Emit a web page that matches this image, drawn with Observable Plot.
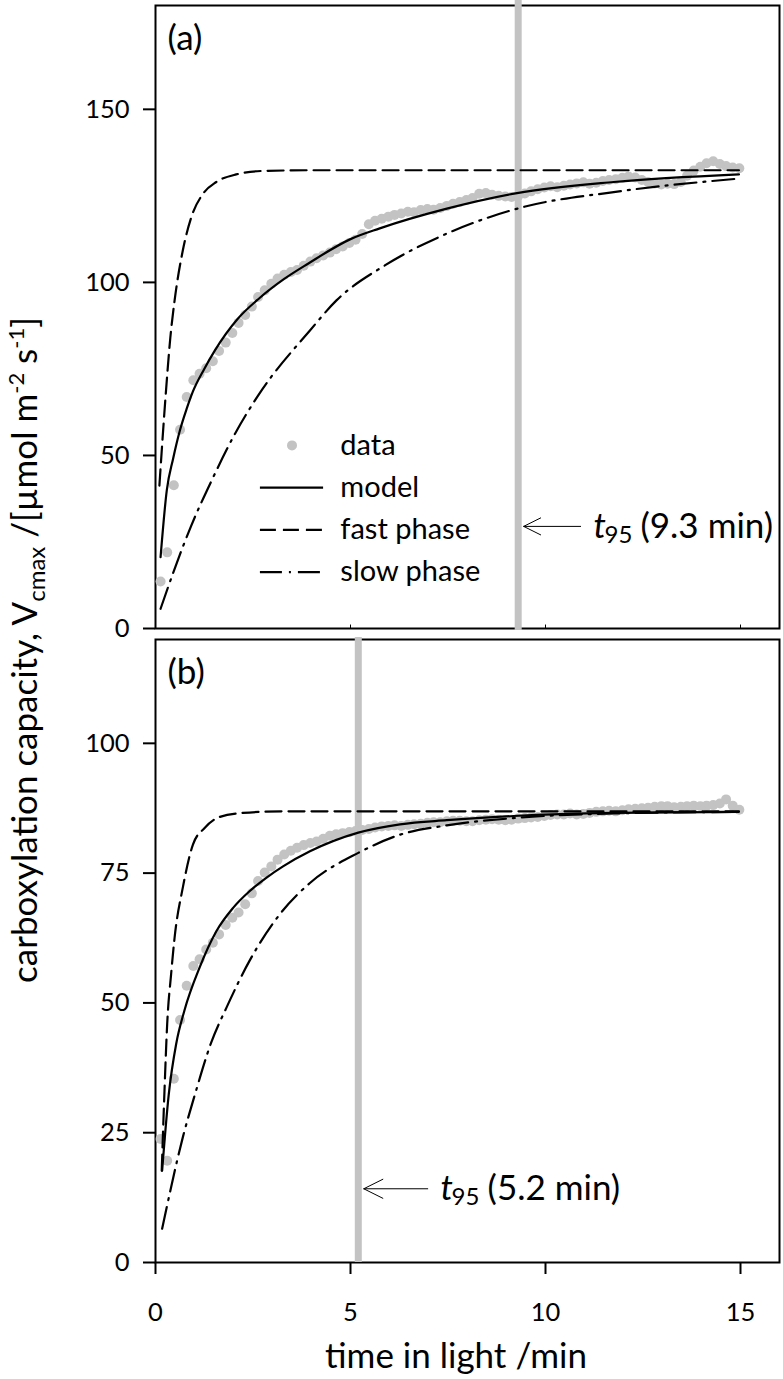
<!DOCTYPE html>
<html><head><meta charset="utf-8">
<script src="https://cdn.jsdelivr.net/npm/d3@7"></script>
<script src="https://cdn.jsdelivr.net/npm/@observablehq/plot@0.6"></script>
<style>
body{margin:0;background:#fff;}
#wrap{position:relative;width:783px;height:1379px;font-family:Lato,sans-serif;}
#wrap > svg{position:absolute;left:0;}
</style></head><body><div id="wrap"></div>
<script>
// ---------- data ----------
const times = [0.13,0.30,0.47,0.63,0.80,0.97,1.13,1.30,1.47,1.63,1.80,1.97,2.13,2.30,2.47,2.63,2.80,2.97,3.13,3.30,3.47,3.63,3.80,3.97,4.13,4.30,4.47,4.63,4.80,4.97,5.13,5.30,5.47,5.63,5.80,5.97,6.13,6.30,6.47,6.63,6.80,6.97,7.13,7.30,7.47,7.63,7.80,7.97,8.13,8.30,8.47,8.63,8.80,8.97,9.13,9.30,9.47,9.63,9.80,9.97,10.13,10.30,10.47,10.63,10.80,10.97,11.13,11.30,11.47,11.63,11.80,11.97,12.13,12.30,12.47,12.63,12.80,12.97,13.13,13.30,13.47,13.63,13.80,13.97,14.13,14.30,14.47,14.63,14.80,14.97];
const vcmaxA = [13.6,22,41.4,57.4,66.9,71.7,73.6,75.2,77.2,80.2,82.6,85.4,88.3,90.6,93,95.8,97.7,99.6,101.1,102.2,103,103.6,104.8,106,107,107.8,108.6,109.6,110.4,111.4,112.3,114,116.8,117.8,118.4,119,119.5,119.9,120.4,120.3,120.9,121.2,121,121.5,122.1,122.7,123.2,123.8,124.4,125.6,125.8,125.3,125,124.8,124.7,125,125.7,126.3,126.9,127.4,127.8,127.5,127.9,128.3,128.6,128.9,128.5,128.8,129.3,129.6,129.8,130.2,130.6,130.3,129.6,129,128.6,128.3,128.5,128.4,129,130.8,132.3,133.4,134.4,135,134.2,133.6,133.2,133];
const vcmaxB = [23.8,19.6,35.4,46.7,53.3,57.1,58.4,60.3,61.6,63.2,65,66.4,67.4,69,71.1,73.5,75.1,76.3,77.6,78.6,79.3,79.9,80.4,80.8,81.1,81.6,82.2,82.5,82.7,82.9,83.1,83.3,83.5,83.8,84,84.1,84.2,84.1,84.3,84.4,84.5,84.7,84.8,84.8,85,85.1,85.1,85,85,85.2,85.3,85.4,85.3,85.2,85.3,85.5,85.6,85.7,85.8,86,86.2,86.3,86.3,86.5,86.3,86.4,86.6,86.8,86.9,87,86.9,87.1,87.3,87.4,87.5,87.6,87.8,87.9,87.9,87.7,87.8,87.9,88,87.9,88,88.1,88.4,89.2,88,87.2];

const modelA_t = [0.13,0.29,0.45,0.62,0.80,0.96,1.25,1.52,2.11,2.67,3.30,3.91,5.00,5.75,7.47,9.27,11.75,14.96];
const modelA_v = [20.6,40,49,57,63.5,68.5,75,80.3,89.5,95.5,101,105.4,112.5,115.6,121.3,125.8,129,131.2];
const fastA_t = [0.10,0.27,0.38,0.49,0.70,0.92,1.22,1.56,2.07,2.75,4.0,14.96];
const fastA_v = [41.3,68.8,84,94.8,109.2,118.9,125.6,129,131.2,132.2,132.4,132.4];
const slowA_t = [0.13,0.46,0.92,1.45,2.05,2.63,3.96,4.64,5.88,7.47,9.44,11.75,14.96];
const slowA_v = [5.7,16.3,29.8,43,56.5,67.3,86.1,94.8,104.9,114.1,121.8,126.1,130];

const modelB_t = [0.17,0.34,0.53,0.74,1.13,1.56,1.99,2.41,2.84,3.27,3.96,5.2,6.27,7.47,9.18,11.75,14.96];
const modelB_v = [17.7,32.4,42.1,48.5,56.8,63.8,68.3,71.5,74.1,76.3,79.2,82.8,84.4,85.2,86,86.6,86.8];
const fastB_t = [0.16,0.23,0.30,0.40,0.49,0.70,0.96,1.26,1.64,2.24,3.27,14.96];
const fastB_v = [17.7,33,46,55.5,62.6,72.2,80.5,83.7,85.8,86.6,86.9,86.9];
const slowB_t = [0.17,0.70,1.04,1.43,1.82,2.41,3.19,3.96,5.2,6.27,7.47,9.18,11.75,14.96];
const slowB_v = [6.5,24.1,33.1,42.4,49.1,58.1,67.1,73.1,78.9,82.4,84.2,85.6,86.5,86.8];

const xTicks = [0,5,10,15];
const yTicksA = [0,50,100,150];
const yTicksB = [0,25,50,75,100];
const t95 = [9.3, 5.2];
const t95Text = ["(9.3 min)", "(5.2 min)"];
const panelLabels = ["(a)", "(b)"];
const legendLabels = ["data", "model", "fast phase", "slow phase"];

// ---------- styling ----------
const FONT = "Lato, 'Open Sans', sans-serif";
const GRAY = "#c3c3c3";
const DASH = "16,7";
const DASHDOT = "22,7,2,7";
const LW = 2.2;
const W = 783, ML = 155, MR = 4;

const zip = (ts, vs) => ts.map((t, i) => ({t, v: vs[i]}));
const wrap = document.getElementById("wrap");

function curves(m, f, s) {
  return [
    Plot.line(m, {x: "t", y: "v", curve: "monotone-x", stroke: "black", strokeWidth: LW}),
    Plot.line(f, {x: "t", y: "v", curve: "monotone-x", stroke: "black", strokeWidth: LW, strokeDasharray: DASH}),
    Plot.line(s, {x: "t", y: "v", curve: "monotone-x", stroke: "black", strokeWidth: LW, strokeDasharray: DASHDOT})
  ];
}

function annotation(tv, yv, len, txt) {
  const tip = tv + 0.14, tail = tip + len, tx = tail + 0.33;
  return [
    Plot.arrow([0], {x1: () => tail, y1: () => yv, x2: () => tip, y2: () => yv,
      stroke: "black", strokeWidth: 1, headLength: 33, headAngle: 53}),
    Plot.text(["t"], {x: () => tx, y: () => yv, text: d => d, textAnchor: "start",
      fontStyle: "italic", fontSize: 35, fontFamily: FONT, fill: "black"}),
    Plot.text(["95"], {x: () => tx, y: () => yv, text: d => d, textAnchor: "start", dx: 11, dy: 9,
      fontSize: 24, fontFamily: FONT, fill: "black"}),
    Plot.text([txt], {x: () => tx, y: () => yv, text: d => d, textAnchor: "start", dx: 47,
      fontSize: 35, fontFamily: FONT, fill: "black"})
  ];
}

// ---------- panel (a) ----------
const dataA = times.map((t, i) => ({t, v: vcmaxA[i]}));
const legX1 = 2.69, legX2 = 4.31, legTX = 4.74, legY0 = 52.9, legStep = 12.2;
const plotA = Plot.plot({
  width: W, height: 640, marginTop: 5, marginBottom: 12, marginLeft: ML, marginRight: MR,
  x: {domain: [0, 16], axis: null},
  y: {domain: [0, 180]},
  style: {fontFamily: FONT, color: "black", background: "transparent", overflow: "visible"},
  marks: [
    Plot.axisY({ticks: yTicksA, tickSize: 12, tickPadding: 14, strokeWidth: 2, fontSize: 25.5, label: null, fill: "black"}),
    Plot.frame({stroke: "black", strokeWidth: 2}),
    Plot.ruleX(xTicks.slice(1), {y1: 0, y2: 1, stroke: "black", strokeWidth: 1}),
    Plot.ruleX([t95[0]], {y1: -0.6, y2: 181.5, stroke: GRAY, strokeWidth: 7}),
    Plot.dot(dataA, {x: "t", y: "v", r: 5, fill: GRAY, stroke: "none"}),
    ...curves(zip(modelA_t, modelA_v), zip(fastA_t, fastA_v), zip(slowA_t, slowA_v)),
    // legend
    Plot.dot([legendLabels[0]], {x: () => (legX1 + legX2) / 2, y: () => legY0, r: 5, fill: GRAY}),
    Plot.ruleY([legendLabels[1]], {y: () => legY0 - legStep, x1: legX1, x2: legX2, stroke: "black", strokeWidth: LW}),
    Plot.ruleY([legendLabels[2]], {y: () => legY0 - 2 * legStep, x1: legX1, x2: legX2, stroke: "black", strokeWidth: LW, strokeDasharray: DASH}),
    Plot.ruleY([legendLabels[3]], {y: () => legY0 - 3 * legStep, x1: legX1, x2: legX2, stroke: "black", strokeWidth: LW, strokeDasharray: DASHDOT}),
    Plot.text(legendLabels, {x: () => legTX, y: (d, i) => legY0 - i * legStep, text: d => d, textAnchor: "start",
      fontSize: 29, fontFamily: FONT, fill: "black"}),
    ...annotation(t95[0], 29.5, 1.46, t95Text[0]),
    Plot.text([panelLabels[0]], {frameAnchor: "top-left", text: d => d, dx: 12, dy: 20, lineAnchor: "top",
      fontSize: 35, fontFamily: FONT, fill: "black"})
  ]
});
plotA.style.top = "0px";
wrap.appendChild(plotA);

// ---------- panel (b) ----------
const dataB = times.map((t, i) => ({t, v: vcmaxB[i]}));
const plotB = Plot.plot({
  width: W, height: 747, marginTop: 7, marginBottom: 117, marginLeft: ML, marginRight: MR,
  x: {domain: [0, 16]},
  y: {domain: [0, 120]},
  style: {fontFamily: FONT, color: "black", background: "transparent", overflow: "visible"},
  marks: [
    Plot.axisY({ticks: yTicksB, tickSize: 12, tickPadding: 14, strokeWidth: 2, fontSize: 25.5, label: null, fill: "black"}),
    Plot.axisX({ticks: xTicks, tickSize: 12, tickPadding: 28, strokeWidth: 2, fontSize: 25.5, label: null, fill: "black"}),
    Plot.frame({stroke: "black", strokeWidth: 2}),
    Plot.ruleX([t95[1]], {y1: 0, y2: 120.4, stroke: GRAY, strokeWidth: 7}),
    Plot.dot(dataB, {x: "t", y: "v", r: 5, fill: GRAY, stroke: "none"}),
    ...curves(zip(modelB_t, modelB_v), zip(fastB_t, fastB_v), zip(slowB_t, slowB_v)),
    ...annotation(t95[1], 14.2, 1.64, t95Text[1]),
    Plot.text([panelLabels[1]], {frameAnchor: "top-left", text: d => d, dx: 12, dy: 20, lineAnchor: "top",
      fontSize: 35, fontFamily: FONT, fill: "black"})
  ]
});
plotB.style.top = "632px";
wrap.appendChild(plotB);

// ---------- shared axis titles ----------
const NS = "http://www.w3.org/2000/svg";
const ov = document.createElementNS(NS, "svg");
ov.setAttribute("width", W); ov.setAttribute("height", 1379);
ov.style.top = "0px"; ov.style.pointerEvents = "none";
ov.innerHTML = `
<text transform="translate(37,650) rotate(-90)" text-anchor="middle" font-family="${FONT}" font-size="35" fill="black">carboxylation capacity, V<tspan font-size="24" dy="8">cmax</tspan><tspan dy="-8"> /[µmol m</tspan><tspan font-size="22" dy="-13">-2</tspan><tspan dy="13"> s</tspan><tspan font-size="22" dy="-13">-1</tspan><tspan dy="13">]</tspan></text>
<text x="456" y="1368" text-anchor="middle" font-family="${FONT}" font-size="35" fill="black">time in light /min</text>`;
wrap.appendChild(ov);
</script></body></html>
